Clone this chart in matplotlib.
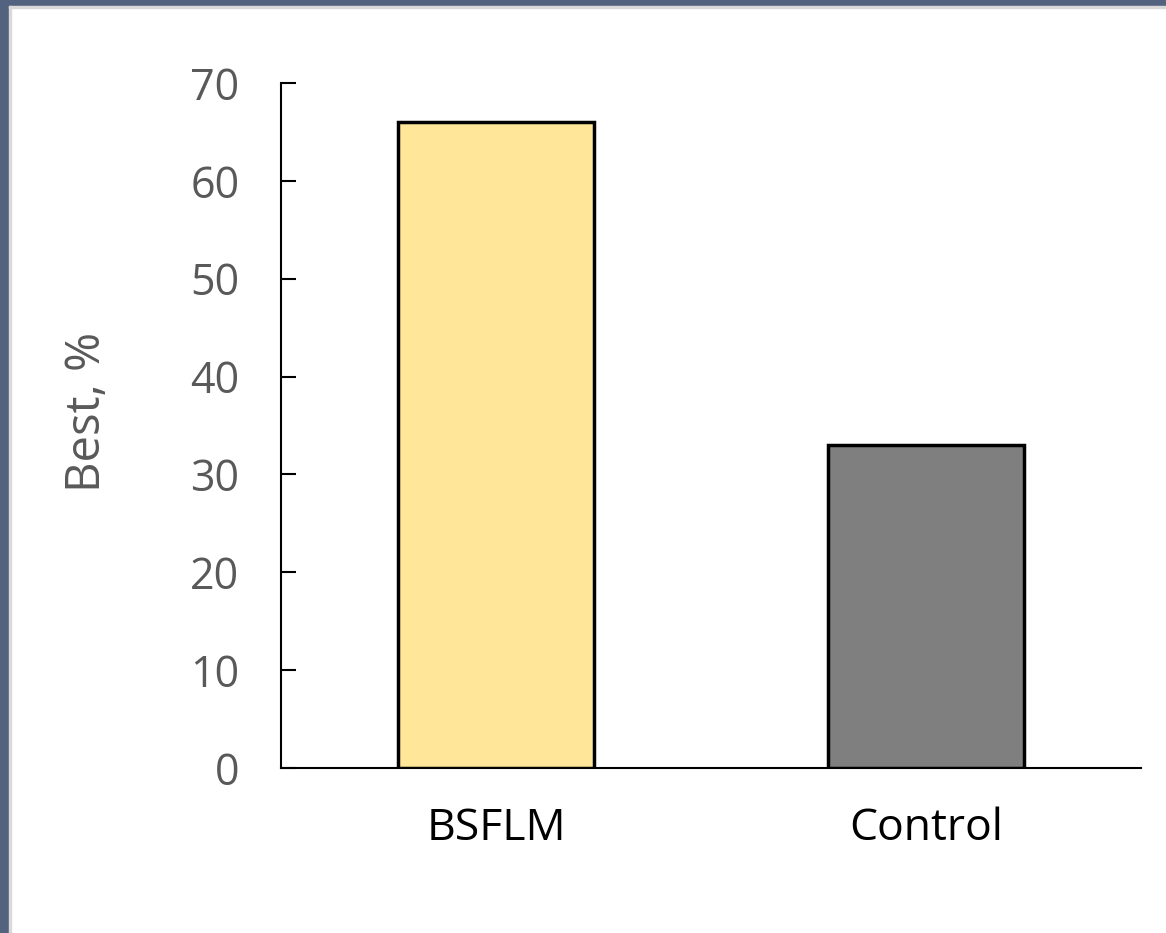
import matplotlib
matplotlib.use('Agg')
import matplotlib.pyplot as plt
from matplotlib.patches import Rectangle

groups = ['BSFLM', 'Control']
best = [66, 33]
bar_colors = ['#ffe699', '#7f7f7f']
yticks = [0, 10, 20, 30, 40, 50, 60, 70]

plt.rcParams['font.family'] = ['Open Sans', 'DejaVu Sans']

fig = plt.figure(figsize=(11.66, 9.33), dpi=100)
fig.patch.set_facecolor('white')
# frame of the slide around the chart
fig.patches.append(Rectangle((0, 0), 9 / 1166, 1, transform=fig.transFigure, color='#53637f', zorder=0))
fig.patches.append(Rectangle((0, 1 - 6 / 933), 1, 6 / 933, transform=fig.transFigure, color='#53637f', zorder=0))
fig.patches.append(Rectangle((9 / 1166, 0), 2 / 1166, 1 - 6 / 933, transform=fig.transFigure, color='#d9d9d9', zorder=0))
fig.patches.append(Rectangle((9 / 1166, 1 - 8 / 933), 1, 2 / 933, transform=fig.transFigure, color='#d9d9d9', zorder=0))

ax = fig.add_axes([281 / 1166, 1 - 768 / 933, (1141 - 281) / 1166, (768 - 83) / 933])
ax.bar(range(len(groups)), best, width=0.455, color=bar_colors, edgecolor='black', linewidth=2.5, zorder=3)

ax.set_xlim(-0.5, 1.5)
ax.set_ylim(0, 70)
ax.set_yticks(yticks)
ax.set_xticks(range(len(groups)))
ax.set_xticklabels(groups)

for side in ['top', 'right']:
    ax.spines[side].set_visible(False)
for side in ['left', 'bottom']:
    ax.spines[side].set_linewidth(1.5)

ax.tick_params(axis='y', direction='in', length=11, width=1.5, pad=30, labelsize=31, labelcolor='#595959')
ax.tick_params(axis='x', length=0, pad=28, labelsize=32, labelcolor='black')
ax.set_ylabel('Best, %', fontsize=34, color='#595959')
ax.yaxis.set_label_coords(-0.198, 0.52)

fig.savefig('out.png', dpi=100)
